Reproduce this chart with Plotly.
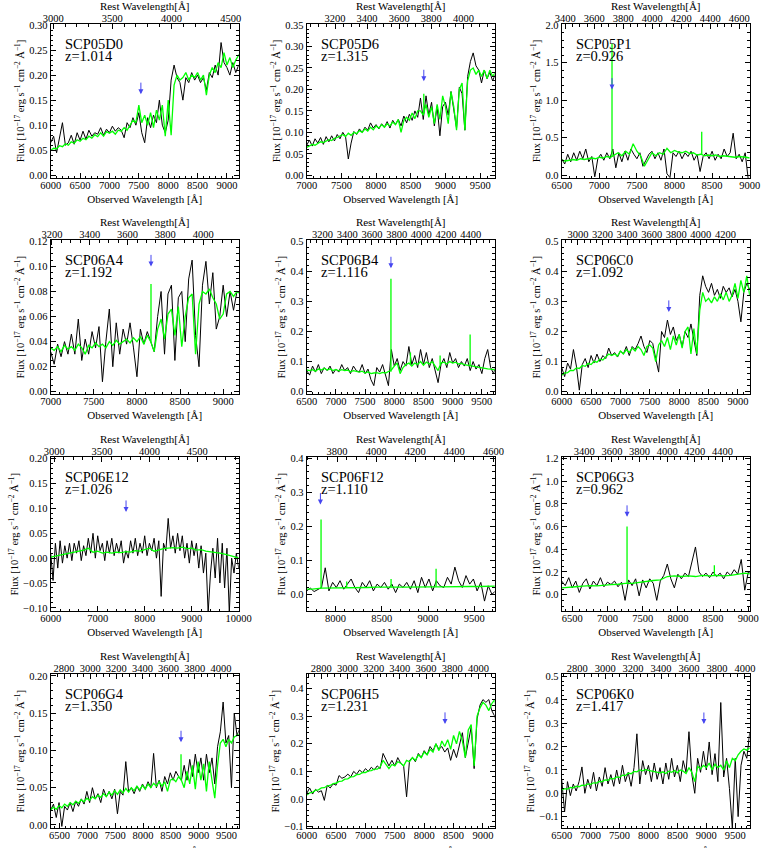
import plotly.graph_objects as go

# ---------------- panel metadata ----------------
panel_names = ["SCP05D0", "SCP05D6", "SCP05P1", "SCP06A4", "SCP06B4", "SCP06C0",
               "SCP06E12", "SCP06F12", "SCP06G3", "SCP06G4", "SCP06H5", "SCP06K0"]
panel_z_text = ["1.014", "1.315", "0.926", "1.192", "1.116", "1.092",
                "1.026", "1.110", "0.962", "1.350", "1.231", "1.417"]
redshift = [1.014, 1.315, 0.926, 1.192, 1.116, 1.092, 1.026, 1.110, 0.962, 1.350, 1.231, 1.417]

obs_range = [[6000, 9200], [7000, 9710], [6500, 9000], [7000, 9180], [6500, 9720], [6000, 9200],
             [6000, 10000], [7690, 9720], [6350, 9020], [6340, 9720], [6000, 9200], [6500, 9750]]
flux_range = [[-0.0054, 0.302], [-0.0063, 0.3523], [-0.036, 2.013], [-0.002, 0.1208],
              [-0.0088, 0.503], [-0.0088, 0.503], [-0.107, 0.203], [-0.05, 0.403],
              [-0.146, 1.209], [-0.0045, 0.2022], [-0.106, 0.4515], [-0.15, 0.51]]
obs_dtick = [500, 500, 500, 500, 500, 500, 1000, 500, 500, 500, 500, 500]
obs_minor = [100, 100, 100, 100, 100, 100, 200, 100, 100, 100, 100, 100]
rest_dtick = [500, 200, 200, 200, 200, 200, 500, 200, 200, 200, 200, 200]
rest_minor = [100, 50, 50, 50, 50, 50, 100, 50, 50, 50, 50, 50]
flux_dtick = [0.05, 0.05, 0.5, 0.02, 0.1, 0.1, 0.05, 0.1, 0.2, 0.05, 0.1, 0.1]
flux_minor = [0.01, 0.01, 0.1, 0.005, 0.02, 0.02, 0.01, 0.02, 0.05, 0.01, 0.02, 0.02]
flux_fmt = [".2f", ".2f", ".1f", ".2f", ".1f", ".1f", ".2f", ".1f", ".1f", ".2f", ".1f", ".1f"]

# blue arrows ([OII] position) : observed wavelength and flux of the arrow tip
arrow_wl = [7535, 8688, 7169, 8163, 7943, 7823, 7603, 7838, 7278, 8683, 8354, 8958]
arrow_tip = [0.162, 0.219, 1.14, 0.100, 0.41, 0.265, 0.093, 0.264, 0.685, 0.111, 0.272, 0.297]

# ---------------- spectra: observed (black) ----------------
obs_start = [6000, 7000, 6500, 7000, 6500, 6000, 6000, 7690, 6350, 6340, 6000, 6500]
obs_step = [50, 40, 40, 40, 50, 50, 50, 40, 50, 50, 50, 50]

obs_flux_1 = [0.065, 0.078, 0.045, 0.072, 0.105, 0.060, 0.065, 0.080, 0.062, 0.085,
              0.070, 0.088, 0.072, 0.090, 0.078, 0.085, 0.082, 0.095, 0.080, 0.092,
              0.085, 0.098, 0.088, 0.095, 0.090, 0.075, 0.105, 0.095, 0.115, 0.100,
              0.125, 0.085, 0.065, 0.115, 0.095, 0.120, 0.105, 0.150, 0.100, 0.085,
              0.110, 0.190, 0.220, 0.195, 0.185, 0.150, 0.195, 0.185, 0.205, 0.190,
              0.200, 0.185, 0.195, 0.170, 0.205, 0.195, 0.220, 0.200, 0.265, 0.225,
              0.215, 0.200, 0.225, 0.205, 0.220, 0.225]
obs_flux_2 = [0.070, 0.082, 0.068, 0.085, 0.075, 0.088, 0.072, 0.090, 0.078, 0.092,
              0.080, 0.095, 0.085, 0.100, 0.090, 0.038, 0.075, 0.102, 0.095, 0.108,
              0.100, 0.112, 0.105, 0.122, 0.110, 0.118, 0.108, 0.120, 0.112, 0.125,
              0.110, 0.128, 0.118, 0.130, 0.115, 0.138, 0.122, 0.142, 0.128, 0.150,
              0.135, 0.180, 0.130, 0.185, 0.140, 0.170, 0.115, 0.160, 0.092, 0.160,
              0.170, 0.140, 0.195, 0.150, 0.110, 0.205, 0.190, 0.105, 0.230, 0.265,
              0.285, 0.255, 0.245, 0.215, 0.245, 0.225, 0.240, 0.220, 0.235]
obs_flux_3 = [0.22, 0.15, 0.28, 0.18, 0.30, 0.20, 0.32, 0.22, 0.35, 0.18,
              0.25, -0.02, 0.22, 0.28, 0.20, 0.30, 0.22, 0.35, 0.10, 0.30,
              0.18, 0.32, 0.20, 0.35, 0.28, 0.22, 0.30, 0.12, 0.20, 0.28,
              0.32, 0.22, 0.30, 0.20, 0.35, 0.02, -0.03, 0.30, 0.25, 0.32,
              0.22, 0.30, 0.25, 0.32, 0.20, 0.28, 0.05, 0.25, 0.30, 0.22,
              0.32, 0.20, 0.28, 0.22, 0.35, 0.25, 0.30, 0.56, 0.22, 0.28,
              0.18, 0.30, -0.05]
obs_flux_4 = [0.032, 0.022, 0.038, 0.028, 0.040, 0.030, 0.046, 0.030, 0.058, 0.025,
              0.042, 0.030, 0.048, 0.035, 0.052, 0.008, 0.040, 0.066, 0.020, 0.055,
              0.030, 0.050, 0.038, 0.055, 0.035, 0.012, 0.050, 0.038, 0.048, 0.040,
              0.032, 0.060, 0.080, 0.030, 0.078, 0.085, 0.025, 0.075, 0.080, 0.040,
              0.090, 0.105, 0.045, 0.020, 0.085, 0.104, 0.070, 0.095, 0.050, 0.060,
              0.085, 0.060, 0.080, 0.065, 0.080, 0.078]
obs_flux_5 = [0.07, 0.055, 0.085, 0.065, 0.09, 0.06, 0.08, 0.07, 0.085, 0.06,
              0.075, 0.065, 0.09, 0.07, 0.08, 0.06, 0.085, 0.07, 0.065, 0.09,
              0.06, 0.075, 0.04, 0.02, 0.08, 0.065, 0.09, 0.055, 0.02, 0.14,
              0.085, 0.11, 0.07, 0.10, 0.085, 0.15, 0.09, 0.12, 0.08, 0.14,
              0.09, 0.13, 0.08, 0.11, 0.07, 0.03, 0.09, 0.11, 0.08, 0.13,
              0.095, 0.11, 0.08, 0.10, 0.085, 0.11, 0.07, 0.10, 0.075, 0.09,
              0.06, 0.11, 0.14, 0.08, 0.06, 0.09]
obs_flux_6 = [0.080, 0.050, 0.095, 0.075, 0.140, 0.085, 0.005, 0.090, 0.110, 0.080,
              0.120, 0.095, 0.125, 0.100, 0.120, 0.110, 0.145, 0.120, 0.130, 0.115,
              0.135, 0.125, 0.150, 0.120, 0.150, 0.140, 0.160, 0.185, 0.150, 0.130,
              0.170, 0.160, 0.110, 0.065, 0.200, 0.180, 0.238, 0.190, 0.215, 0.170,
              0.190, 0.150, 0.200, 0.180, 0.225, 0.170, 0.120, 0.320, 0.385, 0.350,
              0.330, 0.360, 0.320, 0.340, 0.310, 0.350, 0.330, 0.345, 0.315, 0.340,
              0.300, 0.232, 0.330, 0.360, 0.340, 0.360]
obs_flux_7 = [0.010, -0.045, 0.030, -0.020, 0.035, -0.010, 0.025, 0.000, 0.030, -0.005,
              0.030, 0.010, 0.035, -0.005, 0.025, 0.005, 0.040, 0.010, 0.050, 0.000,
              0.045, 0.015, 0.030, -0.005, 0.035, 0.010, 0.040, 0.005, 0.030, 0.010,
              0.035, -0.010, 0.015, 0.000, 0.035, 0.010, 0.040, 0.005, 0.030, 0.010,
              0.045, 0.005, 0.030, 0.015, 0.040, 0.000, 0.035, -0.077, 0.030, 0.015,
              0.080, 0.020, 0.045, 0.010, 0.050, 0.015, 0.045, 0.000, 0.030, -0.010,
              0.035, 0.005, 0.030, -0.020, 0.025, -0.030, 0.010, -0.110, -0.030, 0.020,
              -0.040, 0.040, -0.050, 0.030, -0.060, 0.020, -0.110, 0.000, -0.030, 0.010,
              -0.020]
obs_flux_8 = [0.010, 0.018, 0.008, 0.015, 0.020, 0.078, 0.010, 0.035, 0.020, 0.040,
              0.015, 0.030, 0.045, 0.020, 0.005, 0.035, 0.020, 0.040, 0.010, 0.030,
              0.020, 0.035, 0.015, 0.030, 0.005, 0.030, 0.020, 0.035, 0.015, 0.040,
              0.005, 0.050, 0.020, 0.045, 0.010, 0.040, 0.025, 0.020, 0.050, 0.030,
              0.080, 0.040, 0.020, 0.055, 0.030, 0.045, 0.010, 0.035, -0.020, 0.025,
              0.000, 0.010]
obs_flux_9 = [0.120, 0.080, 0.150, 0.060, 0.120, 0.020, 0.100, 0.140, 0.050, 0.120,
              0.080, 0.150, 0.070, 0.110, 0.090, 0.120, 0.070, 0.110, -0.050, 0.130,
              0.080, 0.140, -0.010, 0.130, 0.060, 0.140, 0.100, -0.050, 0.120, 0.170,
              0.270, 0.140, 0.060, 0.180, 0.140, 0.190, 0.160, 0.300, 0.420, 0.200,
              0.160, 0.190, 0.150, 0.200, 0.160, 0.190, 0.140, 0.200, 0.170, 0.220,
              0.180, 0.310, 0.040, 0.200, 0.180]
obs_flux_10 = [0.020, 0.028, 0.010, 0.030, -0.002, 0.025, 0.020, 0.030, 0.018, 0.032,
               0.025, 0.035, 0.028, 0.045, 0.030, 0.050, 0.035, 0.042, 0.030, 0.048,
               0.038, 0.045, 0.035, 0.048, 0.015, 0.045, 0.040, 0.085, 0.045, 0.050,
               0.042, 0.052, 0.045, 0.055, 0.048, 0.058, 0.050, 0.096, 0.050, 0.060,
               0.045, 0.065, 0.055, 0.070, 0.060, 0.072, 0.065, 0.060, 0.080, 0.060,
               0.088, 0.065, 0.095, 0.070, 0.090, 0.060, 0.095, 0.070, 0.090, 0.055,
               0.105, 0.125, 0.165, 0.110, 0.120, 0.050, 0.150, 0.120, 0.130]
obs_flux_11 = [0.020, 0.040, 0.018, 0.035, 0.025, 0.030, -0.005, 0.050, 0.040, 0.055,
               0.050, 0.085, 0.075, 0.080, 0.090, 0.080, 0.100, 0.090, 0.105, 0.095,
               0.110, 0.100, 0.115, 0.105, 0.120, 0.110, 0.165, 0.140, 0.120, 0.140,
               0.120, 0.150, 0.130, 0.120, 0.008, 0.140, 0.150, 0.135, 0.165, 0.150,
               0.175, 0.160, 0.190, 0.175, 0.200, 0.180, 0.190, 0.170, 0.185, 0.140,
               0.180, 0.150, 0.200, 0.240, 0.150, 0.200, 0.260, 0.110, 0.290, 0.340,
               0.360, 0.350, 0.360, 0.320, 0.300, 0.260]
obs_flux_12 = [0.060, -0.080, 0.050, -0.010, 0.040, 0.010, 0.050, 0.113, 0.000, 0.060,
               0.020, 0.090, 0.010, 0.070, 0.030, 0.110, 0.040, 0.080, 0.030, 0.100,
               0.040, 0.120, 0.050, 0.090, 0.030, 0.110, 0.255, 0.040, 0.140, 0.080,
               0.120, 0.050, 0.130, 0.060, 0.110, 0.040, 0.130, 0.060, 0.150, 0.070,
               0.120, 0.050, 0.140, 0.090, 0.264, 0.080, 0.000, 0.150, 0.090, 0.180,
               0.100, 0.220, 0.080, 0.170, 0.050, 0.389, 0.070, 0.150, 0.020, -0.150,
               0.150, -0.100, 0.120, 0.180, 0.150, 0.260]

# ---------------- spectra: template fit (green) ----------------
mod_start = [6000, 7000, 6500, 7000, 6500, 6000, 6000, 7650, 6350, 6340, 6000, 6500]
mod_step = [50, 40, 50, 40, 50, 50, 100, 100, 100, 50, 50, 50]

mod_flux_1 = [0.050, 0.054, 0.053, 0.059, 0.057, 0.063, 0.060, 0.067, 0.064, 0.071,
              0.068, 0.074, 0.071, 0.078, 0.074, 0.081, 0.077, 0.085, 0.078, 0.087,
              0.084, 0.088, 0.082, 0.090, 0.088, 0.095, 0.090, 0.100, 0.110, 0.105,
              0.140, 0.105, 0.120, 0.100, 0.125, 0.095, 0.130, 0.110, 0.140, 0.078,
              0.150, 0.080, 0.180, 0.200, 0.190, 0.195, 0.205, 0.190, 0.200, 0.195,
              0.205, 0.190, 0.200, 0.160, 0.200, 0.215, 0.205, 0.225, 0.215, 0.245,
              0.220, 0.235, 0.215, 0.230, 0.240, 0.232]
mod_flux_2 = [0.065, 0.068, 0.072, 0.070, 0.075, 0.078, 0.076, 0.080, 0.083, 0.081,
              0.086, 0.088, 0.092, 0.095, 0.090, 0.098, 0.093, 0.100, 0.097, 0.104,
              0.100, 0.108, 0.103, 0.112, 0.106, 0.115, 0.110, 0.118, 0.112, 0.120,
              0.115, 0.124, 0.118, 0.130, 0.100, 0.128, 0.135, 0.128, 0.145, 0.132,
              0.150, 0.150, 0.140, 0.165, 0.135, 0.160, 0.120, 0.165, 0.130, 0.185,
              0.160, 0.120, 0.195, 0.160, 0.105, 0.200, 0.215, 0.105, 0.220, 0.245,
              0.250, 0.235, 0.245, 0.230, 0.245, 0.225, 0.245, 0.230, 0.240]
mod_flux_3 = [0.20, 0.19, 0.20, 0.21, 0.20, 0.22, 0.21, 0.22, 0.23, 0.22,
              0.24, 0.23, 0.25, 0.24, 0.27, 0.30, 0.26, 0.32, 0.28, 0.42,
              0.32, 0.26, 0.12, 0.22, 0.30, 0.26, 0.30, 0.28, 0.36, 0.30,
              0.33, 0.31, 0.30, 0.32, 0.29, 0.30, 0.27, 0.28, 0.26, 0.27,
              0.26, 0.27, 0.25, 0.26, 0.25, 0.25, 0.24, 0.25, 0.24, 0.24,
              0.23]
mod_flux_4 = [0.035, 0.033, 0.036, 0.032, 0.037, 0.034, 0.036, 0.033, 0.038, 0.035,
              0.030, 0.037, 0.035, 0.039, 0.036, 0.038, 0.035, 0.040, 0.037, 0.041,
              0.038, 0.040, 0.042, 0.039, 0.043, 0.040, 0.044, 0.038, 0.045, 0.040,
              0.032, 0.050, 0.058, 0.042, 0.062, 0.066, 0.045, 0.068, 0.036, 0.060,
              0.075, 0.078, 0.030, 0.070, 0.080, 0.078, 0.082, 0.075, 0.070, 0.058,
              0.062, 0.078, 0.080, 0.076, 0.080, 0.078]
mod_flux_5 = [0.072, 0.070, 0.073, 0.068, 0.075, 0.072, 0.078, 0.072, 0.076, 0.070,
              0.074, 0.069, 0.073, 0.070, 0.072, 0.066, 0.070, 0.068, 0.065, 0.068,
              0.062, 0.066, 0.060, 0.062, 0.063, 0.060, 0.064, 0.062, 0.068, 0.072,
              0.085, 0.095, 0.060, 0.080, 0.090, 0.095, 0.085, 0.095, 0.090, 0.100,
              0.088, 0.098, 0.092, 0.100, 0.085, 0.070, 0.095, 0.098, 0.092, 0.100,
              0.095, 0.098, 0.092, 0.094, 0.090, 0.088, 0.086, 0.084, 0.083, 0.080,
              0.080, 0.078, 0.076, 0.075, 0.073, 0.072]
mod_flux_6 = [0.055, 0.062, 0.063, 0.071, 0.070, 0.079, 0.077, 0.087, 0.084, 0.094,
              0.090, 0.101, 0.098, 0.108, 0.105, 0.114, 0.125, 0.120, 0.125, 0.118,
              0.135, 0.125, 0.140, 0.130, 0.145, 0.135, 0.150, 0.140, 0.120, 0.150,
              0.155, 0.145, 0.100, 0.155, 0.170, 0.150, 0.180, 0.140, 0.185, 0.155,
              0.190, 0.145, 0.200, 0.215, 0.125, 0.210, 0.125, 0.270, 0.330, 0.300,
              0.310, 0.295, 0.315, 0.300, 0.325, 0.305, 0.330, 0.300, 0.320, 0.360,
              0.310, 0.370, 0.330, 0.385, 0.320, 0.370]
mod_flux_7 = [0.002, 0.004, 0.006, 0.008, 0.010, 0.011, 0.013, 0.016, 0.020, 0.012,
              0.014, 0.010, 0.012, 0.010, 0.012, 0.011, 0.013, 0.012, 0.015, 0.014,
              0.017, 0.020, 0.014, 0.017, 0.019, 0.020, 0.021, 0.020, 0.022, 0.019,
              0.020, 0.016, 0.017, 0.014, 0.013, 0.012, 0.010, 0.008, 0.006, 0.003,
              0.000]
mod_flux_8 = [0.015, 0.015, 0.018, 0.018, 0.020, 0.020, 0.019, 0.020, 0.021, 0.020,
              0.021, 0.021, 0.022, 0.021, 0.022, 0.022, 0.023, 0.022, 0.023, 0.023,
              0.024, 0.024]
mod_flux_9 = [0.060, 0.062, 0.070, 0.075, 0.080, 0.078, 0.085, 0.088, 0.092, 0.100,
              0.100, 0.110, 0.115, 0.125, 0.130, 0.160, 0.165, 0.160, 0.165, 0.160,
              0.170, 0.165, 0.170, 0.165, 0.170, 0.180, 0.190, 0.180]
mod_flux_10 = [0.020, 0.024, 0.021, 0.026, 0.023, 0.028, 0.025, 0.030, 0.027, 0.032,
               0.029, 0.034, 0.031, 0.036, 0.033, 0.038, 0.035, 0.040, 0.037, 0.042,
               0.038, 0.044, 0.040, 0.046, 0.041, 0.047, 0.043, 0.049, 0.044, 0.050,
               0.046, 0.052, 0.047, 0.053, 0.048, 0.055, 0.050, 0.056, 0.052, 0.058,
               0.052, 0.058, 0.045, 0.060, 0.062, 0.058, 0.065, 0.060, 0.050, 0.072,
               0.055, 0.080, 0.048, 0.085, 0.060, 0.082, 0.045, 0.085, 0.060, 0.036,
               0.080, 0.110, 0.115, 0.105, 0.115, 0.110, 0.118, 0.120, 0.122]
mod_flux_11 = [0.015, 0.022, 0.024, 0.032, 0.033, 0.040, 0.041, 0.048, 0.049, 0.056,
               0.057, 0.064, 0.065, 0.072, 0.073, 0.080, 0.081, 0.088, 0.089, 0.096,
               0.096, 0.102, 0.103, 0.108, 0.108, 0.116, 0.140, 0.125, 0.110, 0.125,
               0.120, 0.135, 0.130, 0.120, 0.140, 0.135, 0.150, 0.140, 0.160, 0.150,
               0.170, 0.160, 0.180, 0.170, 0.200, 0.175, 0.210, 0.190, 0.215, 0.180,
               0.230, 0.200, 0.245, 0.210, 0.150, 0.250, 0.270, 0.120, 0.300, 0.330,
               0.350, 0.340, 0.320, 0.345, 0.360, 0.300]
mod_flux_12 = [0.015, 0.020, 0.018, 0.025, 0.023, 0.030, 0.028, 0.035, 0.033, 0.040,
               0.038, 0.045, 0.044, 0.051, 0.050, 0.057, 0.056, 0.064, 0.062, 0.070,
               0.068, 0.078, 0.076, 0.086, 0.084, 0.094, 0.092, 0.100, 0.096, 0.102,
               0.098, 0.095, 0.092, 0.090, 0.088, 0.092, 0.085, 0.095, 0.090, 0.098,
               0.088, 0.100, 0.095, 0.085, 0.110, 0.090, 0.050, 0.115, 0.105, 0.120,
               0.110, 0.130, 0.100, 0.125, 0.110, 0.120, 0.100, 0.140, 0.110, 0.150,
               0.140, 0.165, 0.180, 0.190, 0.185, 0.195]

# narrow emission lines in the template: wavelength, continuum under it, peak
line_wl = [[], [8688], [7169, 8362], [8163], [7943, 8277, 8785, 9299], [],
           [], [7845, 8122, 8601, 9087], [7278, 8518], [8683], [], []]
line_base = [[], [0.145], [0.25, 0.28], [0.040], [0.066, 0.09, 0.09, 0.086], [],
             [], [0.017, 0.020, 0.021, 0.022], [0.10, 0.168], [0.06], [], []]
line_peak = [[], [0.19], [1.75, 0.58], [0.086], [0.375, 0.13, 0.12, 0.19], [],
             [], [0.22, 0.038, 0.045, 0.075], [0.60, 0.26], [0.095], [], []]

obs_flux = [obs_flux_1, obs_flux_2, obs_flux_3, obs_flux_4, obs_flux_5, obs_flux_6,
            obs_flux_7, obs_flux_8, obs_flux_9, obs_flux_10, obs_flux_11, obs_flux_12]
mod_flux = [mod_flux_1, mod_flux_2, mod_flux_3, mod_flux_4, mod_flux_5, mod_flux_6,
            mod_flux_7, mod_flux_8, mod_flux_9, mod_flux_10, mod_flux_11, mod_flux_12]

# ---------------- layout geometry (pixels in 767x848 page) ----------------
W, H = 767, 848
col_left = [50.7, 306.7, 561.7]
col_width = 188.0
row_top = [24.0, 240.3, 457.3, 674.3]
row_height = 154.0
bottom_title_center_px = 851.0   # last row: title falls at the page edge (cut off as in the original)

FONT = "Liberation Serif, Times New Roman, serif"
GREEN = "rgb(0,255,0)"
BLUE = "rgb(70,70,240)"
OBS_TITLE = "Observed Wavelength [Å]"

fig = go.Figure()
annotations = []
layout = {}

for i in range(12):
    k = i + 1
    r, c = divmod(i, 3)
    xs = "x" if k == 1 else f"x{k}"
    ys = "y" if k == 1 else f"y{k}"
    xt = f"x{12 + k}"
    z1 = 1 + redshift[i]
    rest_range = [obs_range[i][0] / z1, obs_range[i][1] / z1]

    ox = [obs_start[i] + obs_step[i] * j for j in range(len(obs_flux[i]))]
    mx = [mod_start[i] + mod_step[i] * j for j in range(len(mod_flux[i]))]

    fig.add_trace(go.Scatter(x=ox, y=obs_flux[i], mode="lines",
                             line=dict(color="black", width=1),
                             xaxis=xs, yaxis=ys, showlegend=False, hoverinfo="skip"))
    fig.add_trace(go.Scatter(x=mx, y=mod_flux[i], mode="lines",
                             line=dict(color=GREEN, width=1.3),
                             xaxis=xs, yaxis=ys, showlegend=False, hoverinfo="skip"))
    if line_wl[i]:
        lx, ly = [], []
        for w, b, p in zip(line_wl[i], line_base[i], line_peak[i]):
            lx += [w, w, None]
            ly += [b, p, None]
        fig.add_trace(go.Scatter(x=lx, y=ly, mode="lines",
                                 line=dict(color=GREEN, width=1.3),
                                 xaxis=xs, yaxis=ys, showlegend=False, hoverinfo="skip"))
    # invisible carrier so that the rest-wavelength (top) axis is drawn
    fig.add_trace(go.Scatter(x=rest_range, y=[flux_range[i][0], flux_range[i][0]], mode="lines",
                             line=dict(width=0, color="rgba(0,0,0,0)"), opacity=0,
                             xaxis=xt, yaxis=ys, showlegend=False, hoverinfo="skip"))

    x0 = col_left[c] / W
    x1 = (col_left[c] + col_width) / W
    y1 = 1 - row_top[r] / H
    y0 = 1 - (row_top[r] + row_height) / H

    common = dict(showline=True, linecolor="black", linewidth=1, showgrid=False,
                  zeroline=False, ticks="inside", ticklen=5, tickwidth=1,
                  tickcolor="black", automargin=False,
                  tickfont=dict(family=FONT, size=10.5, color="black"))

    last_row = (r == 3)
    layout[f"xaxis{k}"] = dict(
        domain=[x0, x1], anchor=ys, range=obs_range[i], dtick=obs_dtick[i], tick0=0,
        tickformat="d", ticklabelstandoff=-3,
        minor=dict(ticks="inside", ticklen=2.5, dtick=obs_minor[i], tick0=0,
                   tickcolor="black", tickwidth=1),
        title=dict(text="" if last_row else OBS_TITLE, standoff=5,
                   font=dict(family=FONT, size=11, color="black")),
        mirror=False, **common)
    if last_row:
        annotations.append(dict(text=OBS_TITLE, xref=f"{xs} domain", yref="paper",
                                x=0.5, y=1 - bottom_title_center_px / H,
                                xanchor="center", yanchor="middle", showarrow=False,
                                font=dict(family=FONT, size=11, color="black")))
    layout[f"xaxis{12 + k}"] = dict(
        overlaying=xs, anchor=ys, side="top",
        range=rest_range, dtick=rest_dtick[i], tick0=0, tickformat="d", ticklabelstandoff=-3,
        minor=dict(ticks="inside", ticklen=2.5, dtick=rest_minor[i], tick0=0,
                   tickcolor="black", tickwidth=1),
        title=dict(text="Rest Wavelength[Å]", standoff=0,
                   font=dict(family=FONT, size=11, color="black")),
        mirror=False, **common)
    layout[f"yaxis{k}"] = dict(
        domain=[y0, y1], anchor=xs, range=flux_range[i], dtick=flux_dtick[i], tick0=0,
        tickformat=flux_fmt[i],
        minor=dict(ticks="inside", ticklen=2.5, dtick=flux_minor[i], tick0=0,
                   tickcolor="black", tickwidth=1),
        title=dict(text="Flux [10<sup>−17</sup> erg s<sup>−1</sup> cm<sup>−2</sup> Å<sup>−1</sup>]",
                   standoff=2, font=dict(family=FONT, size=10.5, color="black")),
        mirror="ticks", **common)

    annotations.append(dict(text=panel_names[i], xref=f"{xs} domain", yref=f"{ys} domain",
                            x=0.066, y=1 - 19.5 / row_height, xanchor="left", yanchor="middle",
                            showarrow=False, font=dict(family=FONT, size=14.5, color="black")))
    annotations.append(dict(text="z=" + panel_z_text[i], xref=f"{xs} domain", yref=f"{ys} domain",
                            x=0.066, y=1 - 31.5 / row_height, xanchor="left", yanchor="middle",
                            showarrow=False, font=dict(family=FONT, size=14.5, color="black")))
    annotations.append(dict(text="", x=arrow_wl[i], y=arrow_tip[i], xref=xs, yref=ys,
                            showarrow=True, ax=0, ay=-13, arrowhead=2, arrowsize=1,
                            arrowwidth=1, arrowcolor=BLUE, standoff=0))

fig.update_layout(width=W, height=H, margin=dict(l=0, r=0, t=0, b=0),
                  paper_bgcolor="white", plot_bgcolor="white",
                  font=dict(family=FONT, color="black"),
                  annotations=annotations, showlegend=False, **layout)

fig.write_html("out.html")
